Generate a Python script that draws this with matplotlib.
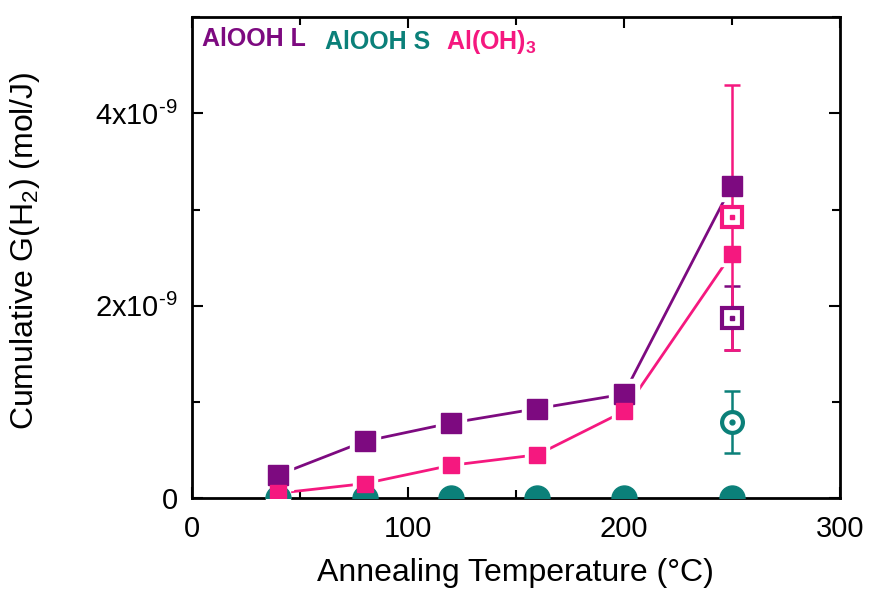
import numpy as np
import matplotlib
matplotlib.use("Agg")
import matplotlib.pyplot as plt

plt.rcParams['font.family'] = ['Liberation Sans', 'DejaVu Sans']
plt.rcParams['mathtext.default'] = 'regular'

# data (G(H2) in mol/J)
temps = [40, 80, 120, 160, 200, 250]
aloohL = [0.24e-9, 0.59e-9, 0.78e-9, 0.93e-9, 1.08e-9, 3.25e-9]
aloohS = [0, 0, 0, 0, 0, 0]
aloh3 = [0.05e-9, 0.15e-9, 0.34e-9, 0.45e-9, 0.90e-9, 2.54e-9]

# open symbols at 250 C with error bars
open_x = 250
open_L, err_L = 1.87e-9, 0.33e-9
open_S, err_S = 0.79e-9, 0.32e-9
open_3, err_3 = 2.92e-9, 1.38e-9

ytick_vals = [0, 2e-9, 4e-9]
ytick_labels = ['0', '2x10$^{\u20109}$', '4x10$^{\u20109}$']

purple = '#7d0a80'
teal = '#0b8079'
pink = '#f5187f'

fig = plt.figure(figsize=(8.72, 5.95), dpi=100)
ax = fig.add_axes([0.220, 0.163, 0.743, 0.808])

# lines with little gaps at the markers
ax.plot(temps, aloohL, color=purple, lw=2, zorder=2)
ax.plot(temps, aloh3, color=pink, lw=2, zorder=2)
ax.plot(temps, aloohL, 's', ms=21, color='white', zorder=3, clip_on=False)
ax.plot(temps, aloh3, 's', ms=17, color='white', zorder=3, clip_on=False)

ax.plot(temps, aloohS, 'o', ms=18, color=teal, zorder=4)
ax.plot(temps, aloohL, 's', ms=15, color=purple, mec=purple, zorder=5)
ax.plot(temps, aloh3, 's', ms=12, color=pink, mec=pink, zorder=6)

# error bars
ax.errorbar(open_x, open_L, yerr=err_L, fmt='none', ecolor=purple, elinewidth=1.8,
            capsize=6, capthick=1.8, zorder=3)
ax.errorbar(open_x, open_3, yerr=err_3, fmt='none', ecolor=pink, elinewidth=1.8,
            capsize=6, capthick=1.8, zorder=4)
ax.errorbar(open_x, open_S, yerr=err_S, fmt='none', ecolor=teal, elinewidth=1.8,
            capsize=6, capthick=1.8, zorder=4)

# open symbols with a dot in the middle
ax.plot(open_x, open_L, 's', ms=14, mfc='white', mec=purple, mew=3, zorder=7)
ax.plot(open_x, open_L, 's', ms=2.5, color=purple, zorder=8)
ax.plot(open_x, open_3, 's', ms=14, mfc='white', mec=pink, mew=3, zorder=7)
ax.plot(open_x, open_3, 's', ms=2.5, color=pink, zorder=8)
ax.plot(open_x, open_S, 'o', ms=15, mfc='white', mec=teal, mew=3, zorder=7)
ax.plot(open_x, open_S, 'o', ms=3.5, color=teal, zorder=8)

ax.set_xlim(0, 300)
ax.set_ylim(0, 5e-9)
ax.set_xticks([0, 100, 200, 300])
ax.set_xticks([50, 150, 250], minor=True)
ax.set_yticks(ytick_vals)
ax.set_yticks([1e-9, 3e-9, 5e-9], minor=True)
ax.set_yticklabels(ytick_labels)
ax.tick_params(which='both', direction='in', top=True, right=True, labelsize=21,
               width=1.5)
ax.tick_params(axis='x', pad=12)
ax.tick_params(axis='y', pad=10)
ax.tick_params(which='major', length=8)
ax.tick_params(which='minor', length=6)
for s in ax.spines.values():
    s.set_linewidth(2)

ax.set_xlabel('Annealing Temperature (°C)', fontsize=23, labelpad=11)
ax.set_ylabel('Cumulative G(H$_2$) (mol/J)', fontsize=23)
ax.yaxis.set_label_coords(-0.232, 0.515)

# coloured legend labels
ax.text(0.015, 0.955, 'AlOOH L', color=purple, fontsize=18, fontweight='bold',
        transform=ax.transAxes, va='center')
ax.text(0.205, 0.948, 'AlOOH S', color=teal, fontsize=18, fontweight='bold',
        transform=ax.transAxes, va='center')
ax.text(0.393, 0.948, 'Al(OH)$_3$', color=pink, fontsize=18, fontweight='bold',
        transform=ax.transAxes, va='center')

fig.savefig('out.png', dpi=100)
